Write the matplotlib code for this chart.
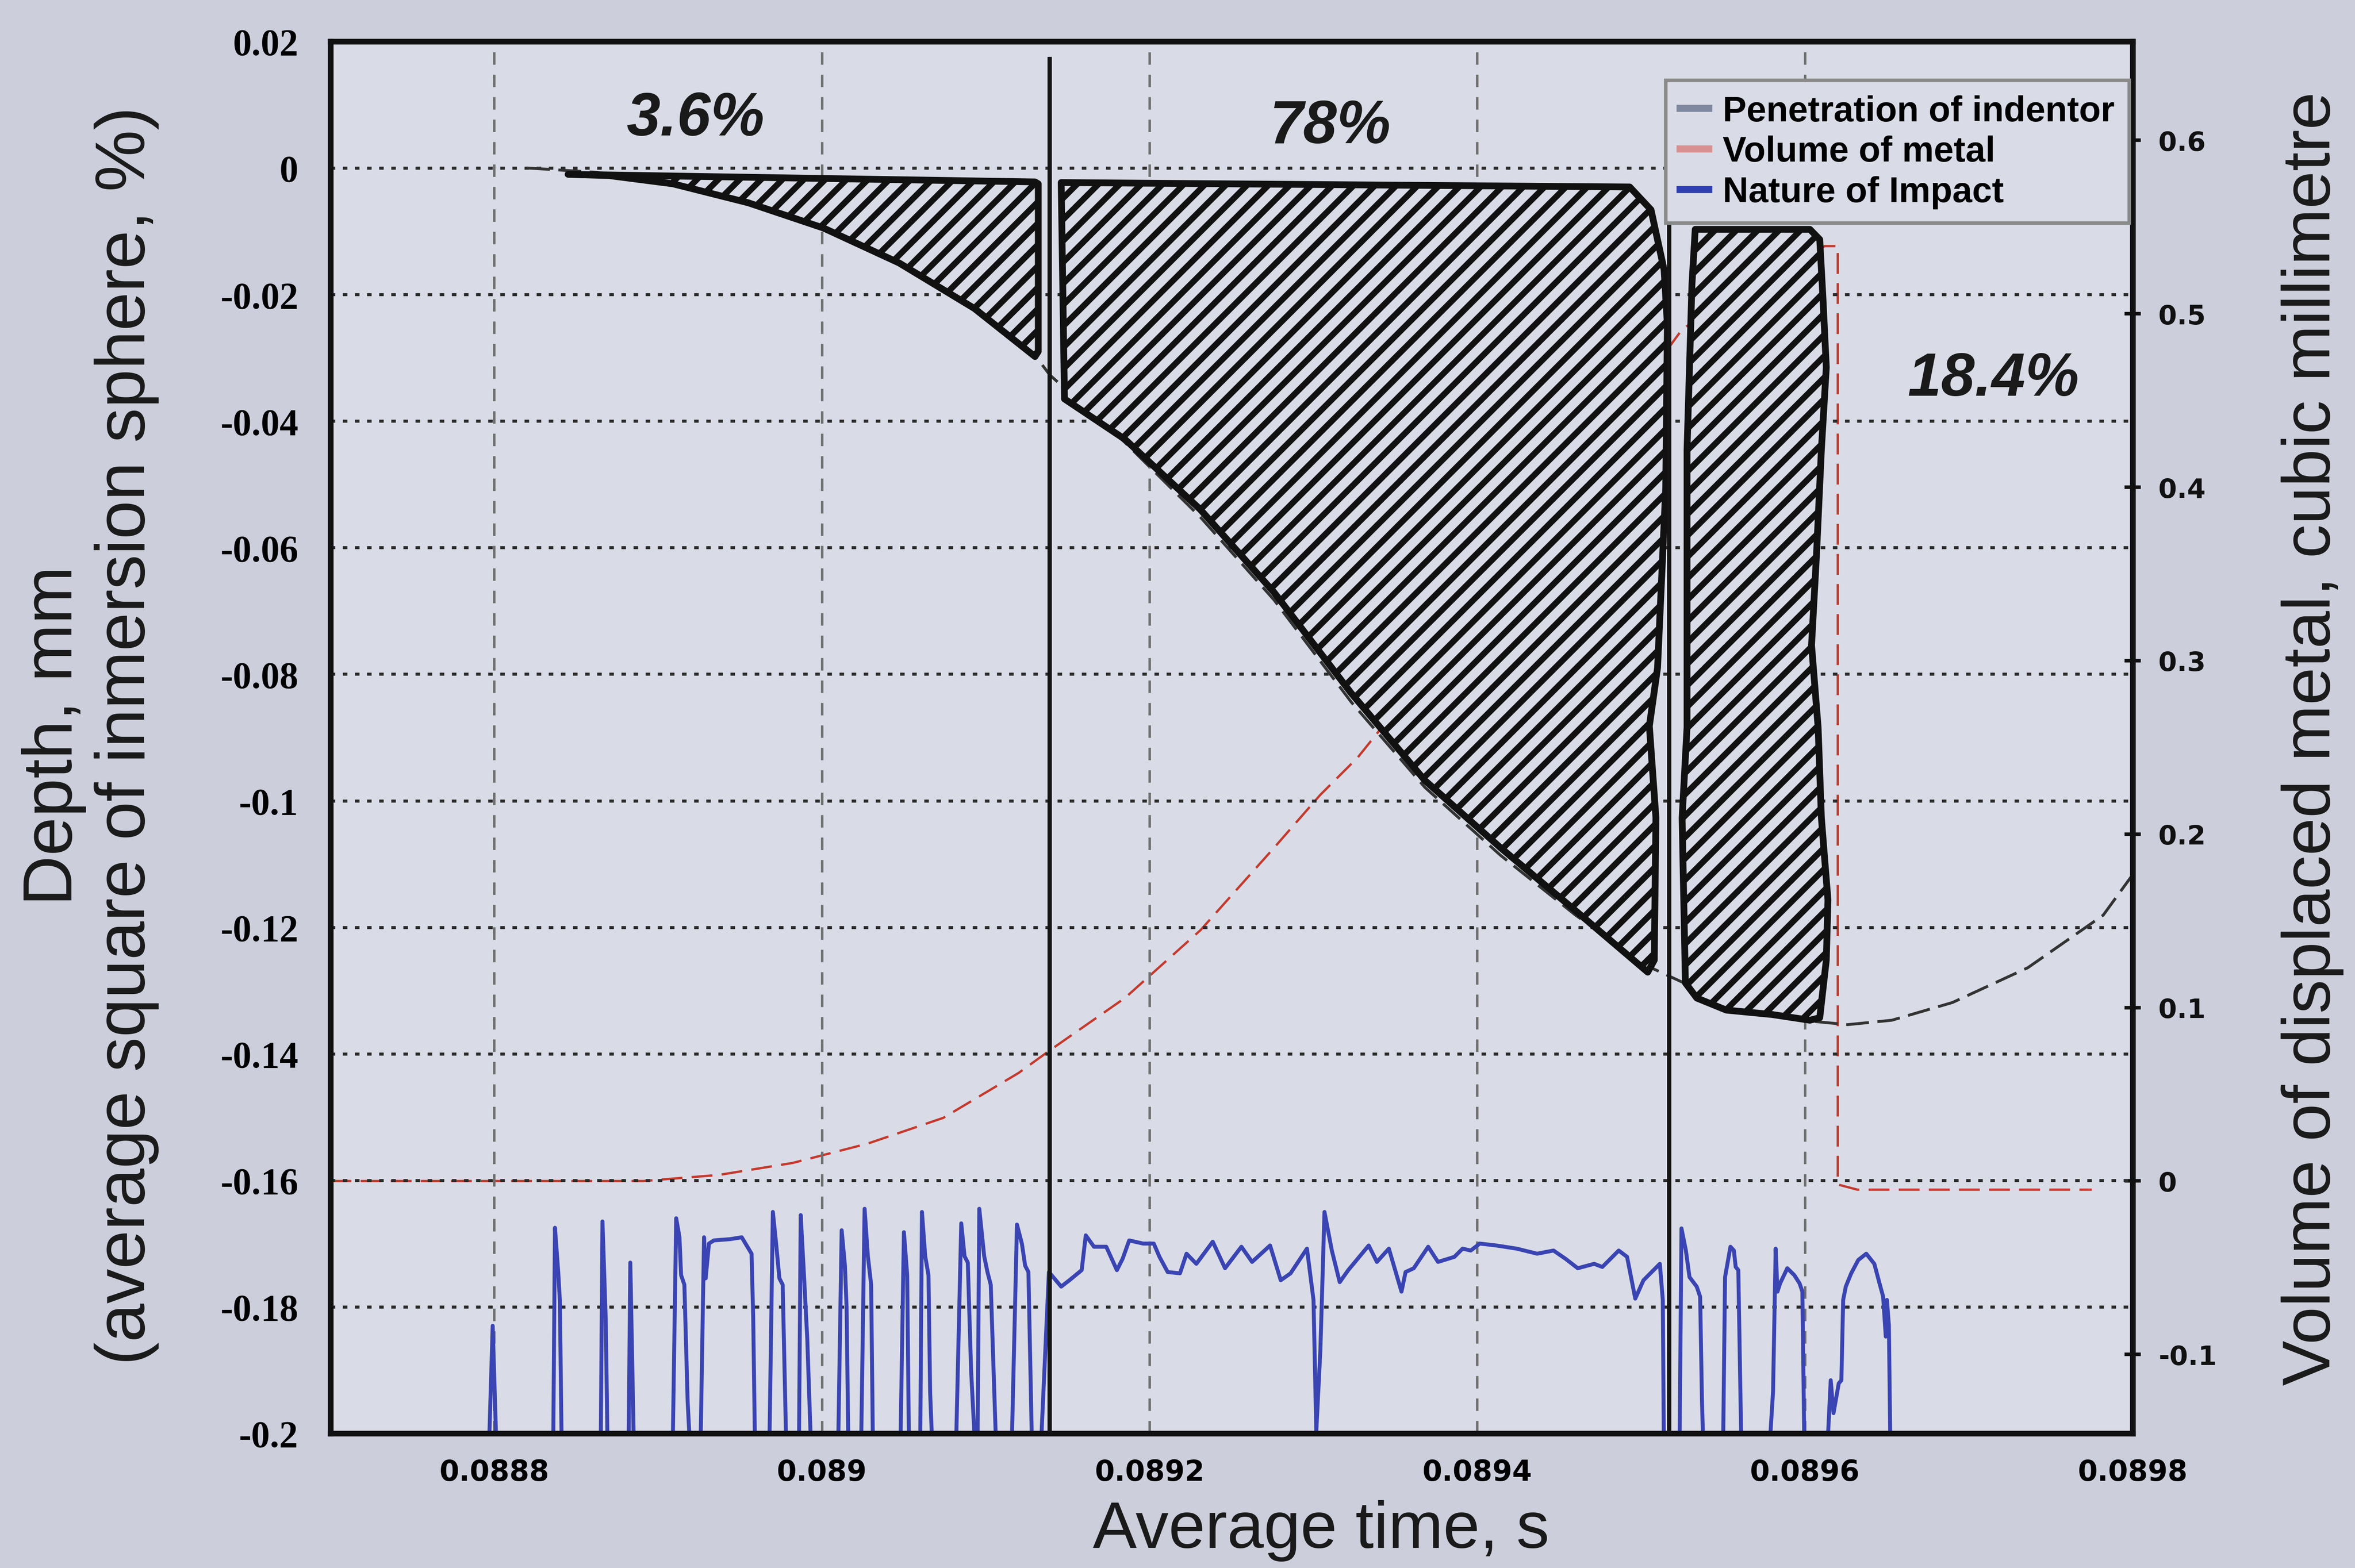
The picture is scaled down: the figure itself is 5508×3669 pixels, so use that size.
import matplotlib
matplotlib.use('Agg')
import matplotlib.pyplot as plt
from matplotlib.patches import Polygon
from matplotlib.lines import Line2D
from matplotlib.font_manager import FontProperties

# ---------------- data ----------------
x_ticks = [0.0888, 0.0890, 0.0892, 0.0894, 0.0896, 0.0898]
x_tick_labels = ['0.0888', '0.089', '0.0892', '0.0894', '0.0896', '0.0898']
depth_ticks = [0.02, 0.0, -0.02, -0.04, -0.06, -0.08, -0.10, -0.12, -0.14, -0.16, -0.18, -0.20]
depth_tick_labels = ['0.02', '0', '-0.02', '-0.04', '-0.06', '-0.08', '-0.1', '-0.12',
                     '-0.14', '-0.16', '-0.18', '-0.2']
volume_ticks = [-0.1, 0.0, 0.1, 0.2, 0.3, 0.4, 0.5, 0.6]
volume_tick_labels = ['-0.1', '0', '0.1', '0.2', '0.3', '0.4', '0.5', '0.6']

# Penetration of indentor (depth, mm)
pen_t = [0.08882, 0.088863, 0.088909, 0.088955, 0.089001, 0.089047, 0.089093, 0.08913,
         0.089139, 0.089185, 0.089231, 0.089276, 0.089323, 0.089368, 0.089414, 0.08946,
         0.089506, 0.089552, 0.089598, 0.089626, 0.089653, 0.08969, 0.089736, 0.089782, 0.0898]
pen_d = [0.0, -0.0007, -0.0023, -0.0054, -0.0094, -0.0149, -0.0220, -0.0296,
         -0.0327, -0.0434, -0.0552, -0.0683, -0.0844, -0.0979, -0.1086, -0.1181,
         -0.1264, -0.1319, -0.1347, -0.1354, -0.1347, -0.1319, -0.1264, -0.1181, -0.1117]

# Volume of metal (cubic millimetre, right axis)
vol_t = [0.0887, 0.088891, 0.088937, 0.088982, 0.089028, 0.089074, 0.08912, 0.089139,
         0.089185, 0.089231, 0.089276, 0.089304, 0.089327, 0.08940, 0.08947, 0.089525,
         0.08957, 0.089612, 0.08962, 0.08962, 0.089632, 0.089775]
vol_v = [0.0, 0.0, 0.0035, 0.0104, 0.0216, 0.0364, 0.0623, 0.0753,
         0.1056, 0.1446, 0.1922, 0.2225, 0.2442, 0.33, 0.42, 0.491,
         0.52, 0.539, 0.539, -0.002, -0.005, -0.005]

# Nature of impact (time, depth-axis value)
impact_points = [
    (0.088797, -0.2), (0.088799, -0.1830), (0.088801, -0.2),
    (0.088836, -0.2), (0.088837, -0.1675), (0.088839, -0.1745), (0.088840, -0.1790), (0.088841, -0.2),
    (0.088865, -0.2), (0.088866, -0.1665), (0.088868, -0.1820), (0.088869, -0.2),
    (0.088882, -0.2), (0.088883, -0.1730), (0.088885, -0.2),
    (0.088909, -0.2), (0.088911, -0.1660), (0.088913, -0.1690), (0.088914, -0.1750),
    (0.088916, -0.1765), (0.088918, -0.1950), (0.088919, -0.2),
    (0.088926, -0.2), (0.088928, -0.1690), (0.088929, -0.1755), (0.088931, -0.1700),
    (0.088934, -0.1695), (0.088944, -0.1693), (0.088951, -0.1690), (0.088957, -0.1716),
    (0.088958, -0.1816), (0.088959, -0.2),
    (0.088968, -0.2), (0.088970, -0.1650), (0.088972, -0.1700), (0.088974, -0.1755),
    (0.088976, -0.1765), (0.088978, -0.2),
    (0.088986, -0.2), (0.088987, -0.1655), (0.088989, -0.1750), (0.088991, -0.1850), (0.088993, -0.2),
    (0.089010, -0.2), (0.089012, -0.1679), (0.089014, -0.1735), (0.089015, -0.1800), (0.089016, -0.2),
    (0.089024, -0.2), (0.089026, -0.1645), (0.089028, -0.1720), (0.089030, -0.1765), (0.089031, -0.2),
    (0.089048, -0.2), (0.089050, -0.1682), (0.089052, -0.1750), (0.089053, -0.2),
    (0.089060, -0.2), (0.089061, -0.1650), (0.089063, -0.1720), (0.089065, -0.1750),
    (0.089066, -0.1935), (0.089067, -0.2),
    (0.089082, -0.2), (0.089083, -0.1890), (0.089085, -0.1668), (0.089087, -0.1720),
    (0.089089, -0.1730), (0.089091, -0.1900), (0.089093, -0.2),
    (0.089095, -0.2), (0.089096, -0.1645), (0.089099, -0.1720), (0.089101, -0.1745),
    (0.089103, -0.1765), (0.089106, -0.2),
    (0.089116, -0.2), (0.089119, -0.1670), (0.089122, -0.1700), (0.089124, -0.1735),
    (0.089126, -0.1745), (0.089128, -0.2),
    (0.089134, -0.2), (0.0891385, -0.1745), (0.089146, -0.1768), (0.089151, -0.1758),
    (0.0891585, -0.1742), (0.089161, -0.1687), (0.089166, -0.1705), (0.0891735, -0.1705),
    (0.089180, -0.1742), (0.0891835, -0.1724), (0.0891875, -0.1695), (0.089196, -0.1700),
    (0.0892025, -0.1700), (0.089206, -0.1721), (0.089211, -0.1745), (0.0892185, -0.1747),
    (0.0892225, -0.1716), (0.0892285, -0.1732), (0.0892385, -0.1697), (0.089246, -0.1739),
    (0.089256, -0.1705), (0.0892625, -0.1729), (0.0892735, -0.1703), (0.089280, -0.1758),
    (0.089286, -0.1747), (0.089296, -0.1708), (0.089300, -0.1789), (0.0893017, -0.1997),
    (0.0893042, -0.1868), (0.0893067, -0.1650), (0.0893112, -0.1711), (0.089316, -0.1761),
    (0.0893212, -0.1742), (0.0893337, -0.1703), (0.0893387, -0.1729), (0.089346, -0.1708),
    (0.0893537, -0.1776), (0.0893562, -0.1745), (0.0893612, -0.1739), (0.089370, -0.1705),
    (0.089376, -0.1729), (0.089386, -0.1721), (0.089391, -0.1708), (0.089396, -0.1711),
    (0.0894015, -0.1700), (0.0894115, -0.1703), (0.089424, -0.1708), (0.0894365, -0.1716),
    (0.0894465, -0.1711), (0.0894538, -0.1724), (0.0894613, -0.1739), (0.0894713, -0.1732),
    (0.0894763, -0.1737), (0.0894863, -0.1711), (0.0894914, -0.1721), (0.0894964, -0.1787),
    (0.0895014, -0.1758), (0.0895114, -0.1732), (0.0895132, -0.1789), (0.0895138, -0.2),
    (0.0895235, -0.2), (0.0895246, -0.1676), (0.0895273, -0.1711), (0.0895295, -0.1753),
    (0.0895339, -0.1768), (0.089536, -0.1784), (0.0895371, -0.1947), (0.0895377, -0.2),
    (0.0895501, -0.2), (0.0895512, -0.1753), (0.0895545, -0.1705), (0.0895566, -0.1711),
    (0.0895577, -0.1737), (0.0895593, -0.1742), (0.089561, -0.2),
    (0.0895789, -0.2), (0.0895805, -0.1934), (0.0895821, -0.1708), (0.0895832, -0.1776),
    (0.0895848, -0.1763), (0.0895892, -0.1739), (0.0895935, -0.1750), (0.0895967, -0.1763),
    (0.0895984, -0.1776), (0.0895995, -0.2),
    (0.0896141, -0.2), (0.0896157, -0.1916), (0.0896174, -0.1968), (0.0896206, -0.1921),
    (0.0896222, -0.1916), (0.0896233, -0.1789), (0.0896249, -0.1768), (0.0896282, -0.1747),
    (0.0896325, -0.1726), (0.0896374, -0.1716), (0.0896423, -0.1732), (0.0896455, -0.1763),
    (0.0896477, -0.1784), (0.0896493, -0.1847), (0.08965, -0.1789), (0.0896512, -0.1829),
    (0.089652, -0.2),
]

# Hatched phases (time, depth)
hatch_a = [(0.088845, -0.0010), (0.08913, -0.0022), (0.089132, -0.0025), (0.089132, -0.0290),
           (0.08913, -0.0298), (0.089093, -0.0222), (0.089047, -0.0150), (0.089001, -0.0095),
           (0.088955, -0.0055), (0.088909, -0.0025), (0.088870, -0.0012)]
hatch_b = [(0.089146, -0.0023), (0.089493, -0.0030), (0.089506, -0.0066), (0.089514, -0.0161),
           (0.089516, -0.0248), (0.089515, -0.0505), (0.08951, -0.0790), (0.089505, -0.0882),
           (0.089509, -0.1027), (0.089508, -0.1252), (0.089504, -0.1271), (0.08946, -0.1174),
           (0.089414, -0.1074), (0.089368, -0.0968), (0.089323, -0.0830), (0.089276, -0.0671),
           (0.089231, -0.0540), (0.089185, -0.0429), (0.089148, -0.0365)]
hatch_c = [(0.089533, -0.0097), (0.089603, -0.0097), (0.089609, -0.0113), (0.089611, -0.0208),
           (0.089613, -0.0315), (0.08961, -0.0445), (0.089607, -0.0612), (0.089604, -0.0754),
           (0.089608, -0.0884), (0.08961, -0.1027), (0.089614, -0.1157), (0.089613, -0.1252),
           (0.089609, -0.1343), (0.089603, -0.1347), (0.08958, -0.1338), (0.089552, -0.1331),
           (0.089534, -0.1312), (0.089527, -0.1288), (0.089526, -0.1157), (0.089525, -0.1027),
           (0.089528, -0.0884), (0.089528, -0.0445), (0.089531, -0.0184)]

divider_t = [0.089139, 0.089517]
divider_top = [0.0172, -0.0090]

share_labels = ['3.6%', '78%', '18.4%']
share_t = [0.088923, 0.08931, 0.089715]
share_d = [0.0077, 0.0065, -0.0334]

legend_labels = ['Penetration of indentor', 'Volume of metal', 'Nature of Impact']

# ---------------- styling ----------------
BG_FIG = '#cccfdb'
BG_AX = '#d9dce6'
plt.rcParams['hatch.linewidth'] = 3.4

fig = plt.figure(figsize=(5508 / 300, 3670 / 300), dpi=300, facecolor=BG_FIG)
rect = [0.14034, 0.08583, 0.76525, 0.88747]

# back axes: volume (right axis) + background
ax2 = fig.add_axes(rect)
ax2.set_facecolor(BG_AX)
# front axes: depth (left axis)
ax = fig.add_axes(rect, sharex=ax2)
ax.patch.set_visible(False)

# volume line
ax2.plot(vol_t, vol_v, color='#c43a2e', lw=1.3, dashes=(9, 4), zorder=2)
ax2.set_ylim(-0.1455, 0.657)
ax2.yaxis.tick_right()
ax2.set_yticks(volume_ticks, volume_tick_labels)
ax2.tick_params(axis='y', direction='inout', length=9, width=2, pad=10, colors='#111')
ax2.tick_params(axis='x', bottom=False, labelbottom=False)
for lbl in ax2.get_yticklabels():
    lbl.set_fontfamily('DejaVu Sans')
    lbl.set_fontweight('bold')
    lbl.set_fontsize(15)
for s in ax2.spines.values():
    s.set_visible(False)

# front axes content
ax.set_xlim(0.0887, 0.0898)
ax.set_ylim(-0.2, 0.02)
ax.set_xticks(x_ticks, x_tick_labels)
ax.set_yticks(depth_ticks, depth_tick_labels)
ax.tick_params(axis='x', length=0, pad=14)
ax.tick_params(axis='y', length=0, pad=18)
for lbl in ax.get_xticklabels():
    lbl.set_fontfamily('DejaVu Sans')
    lbl.set_fontweight('bold')
    lbl.set_fontsize(16)
for lbl in ax.get_yticklabels():
    lbl.set_fontfamily('Liberation Serif')
    lbl.set_fontweight('bold')
    lbl.set_fontsize(21)

ax.set_axisbelow(True)
ax.xaxis.grid(True, color='#707070', lw=1.4, ls=(0, (5, 4)))
ax.yaxis.grid(True, color='#2a2a2a', lw=1.7, ls=(0, (1.5, 2.5)))

for s in ax.spines.values():
    s.set_linewidth(3.2)
    s.set_color('#111111')

ax.plot(pen_t, pen_d, color='#333333', lw=1.6, dashes=(8, 3), zorder=2)
imp_t = [p[0] for p in impact_points]
imp_d = [p[1] for p in impact_points]
ax.plot(imp_t, imp_d, color='#3a44b2', lw=2.2, zorder=2)

for poly in (hatch_a, hatch_b, hatch_c):
    ax.add_patch(Polygon(poly, closed=True, facecolor=BG_AX, edgecolor='#111111',
                         hatch='//', lw=3.8, joinstyle='round', zorder=3))

for t, top in zip(divider_t, divider_top):
    ax.plot([t, t], [top, -0.2], color='#151515', lw=2.4, zorder=4)

for lab, t, d in zip(share_labels, share_t, share_d):
    ax.text(t, d, lab, fontsize=34, fontweight='bold', fontstyle='italic',
            fontfamily='Liberation Sans', color='#1a1a1a', ha='center', va='center', zorder=5)

handles = [Line2D([], [], color='#8088a0', lw=4),
           Line2D([], [], color='#d89090', lw=4),
           Line2D([], [], color='#3040b0', lw=4)]
leg = ax.legend(handles, legend_labels, loc='upper right', bbox_to_anchor=(0.998, 0.972),
                prop=FontProperties(family='Liberation Sans', weight='bold', size=20),
                frameon=True, fancybox=False, edgecolor='#8a8a8a', facecolor=BG_AX,
                framealpha=1, handlelength=0.8, handletextpad=0.4, labelspacing=0.2,
                borderpad=0.4, borderaxespad=0)
leg.get_frame().set_linewidth(2.0)
leg.set_zorder(6)

# axis titles
fig.text(0.0383, 0.531, 'Depth, mm\n(average square of inmersion sphere, %)',
         rotation=90, ha='center', va='center', fontsize=39, fontfamily='Liberation Sans',
         linespacing=1.15, multialignment='center', color='#1a1a1a')
fig.text(0.561, 0.024, 'Average time, s', ha='center', va='center', fontsize=37,
         fontfamily='Liberation Sans', color='#1a1a1a')
fig.text(0.982, 0.529, 'Volume of displaced metal, cubic millimetre', rotation=90,
         ha='center', va='center', fontsize=38, fontfamily='Liberation Sans', color='#1a1a1a')

fig.savefig('out.png', dpi=300, facecolor=BG_FIG)
